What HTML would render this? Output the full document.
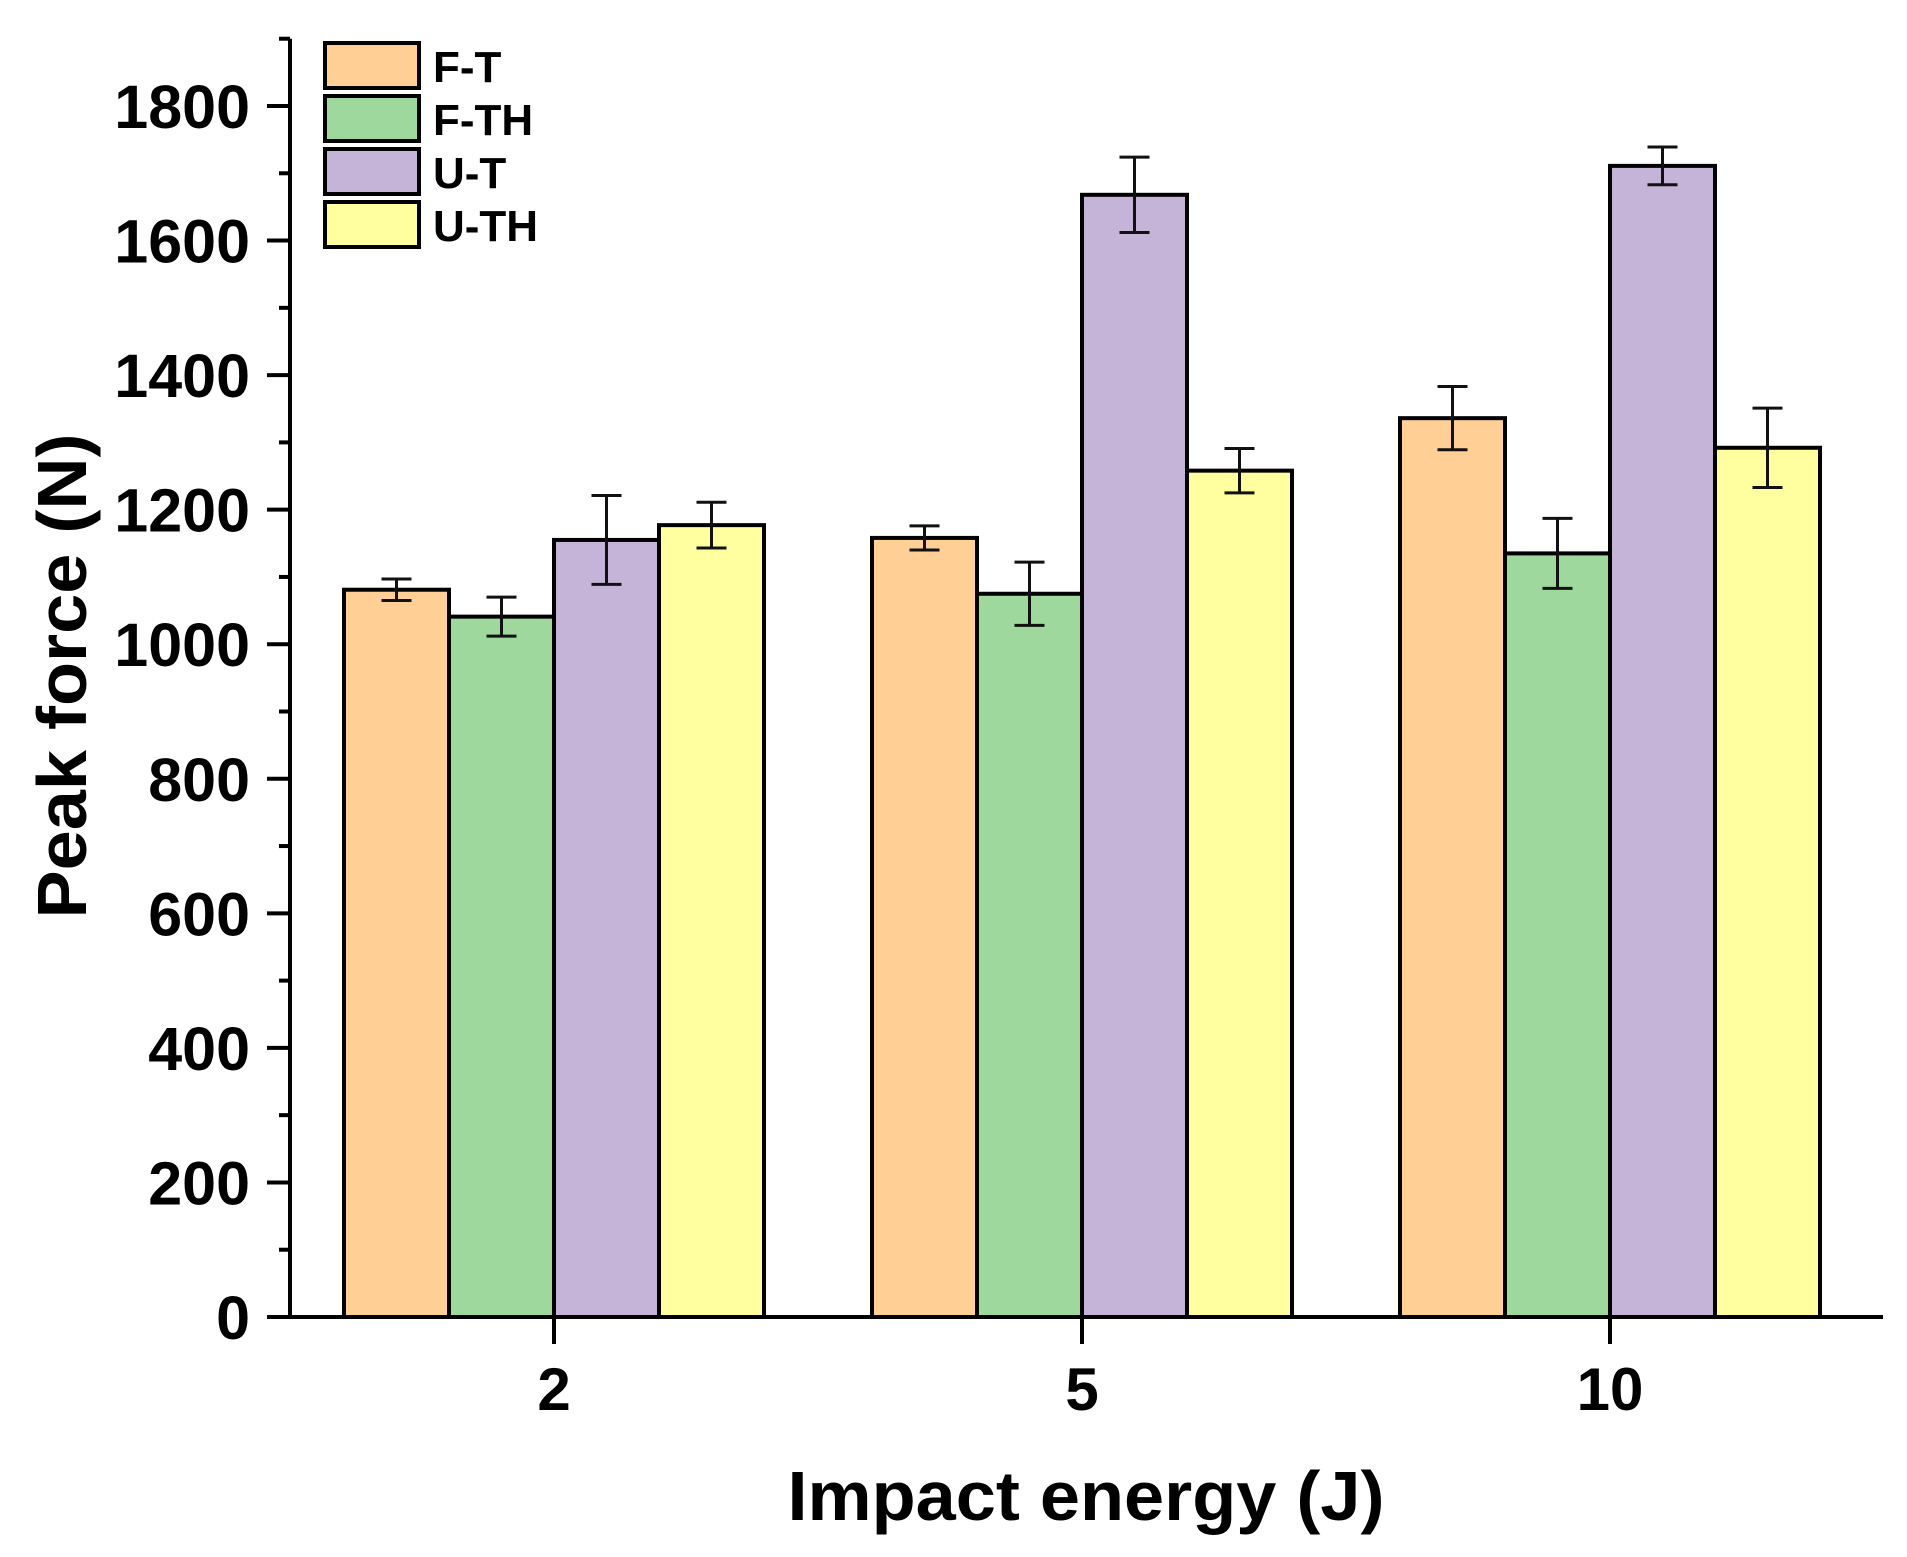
<!DOCTYPE html>
<html><head><meta charset="utf-8"><style>
html,body{margin:0;padding:0;background:#fff;}
svg{display:block;font-family:"Liberation Sans",Arial,sans-serif;font-weight:bold;}
</style></head><body>
<svg id="chart" width="1907" height="1557" viewBox="0 0 1907 1557" xmlns="http://www.w3.org/2000/svg">
<g id="bars"></g>
<g id="axes"></g>
<text x="1086" y="1520" font-size="70" text-anchor="middle" textLength="597" lengthAdjust="spacingAndGlyphs">Impact energy (J)</text>
<text transform="translate(86,676) rotate(-90)" font-size="70" text-anchor="middle" textLength="485" lengthAdjust="spacingAndGlyphs">Peak force (N)</text>
<g id="legend"></g>
</svg>
<script>
const categories = ["2", "5", "10"];
const seriesNames = ["F-T", "F-TH", "U-T", "U-TH"];
const ftValues = [1081, 1158, 1336];
const fthValues = [1041, 1075, 1135];
const utValues = [1155, 1668, 1711];
const uthValues = [1177, 1258, 1292];
const ftErr = [16, 18, 47];
const fthErr = [29, 47, 52];
const utErr = [66, 56, 28];
const uthErr = [34, 33, 59];
const yTicks = [0, 200, 400, 600, 800, 1000, 1200, 1400, 1600, 1800];

const colors = ["#FFCF95", "#9ED89C", "#C6B4D8", "#FFFFA0"];
const values = [ftValues, fthValues, utValues, uthValues];
const errs = [ftErr, fthErr, utErr, uthErr];
const NS = "http://www.w3.org/2000/svg";
const y0 = 1317, yPer = (1317 - 106) / 1800;
const yMax = 1900;
function yScale(v){ return y0 - v * yPer; }
const xStart = 554, xStep = 528;
function xScale(i){ return xStart + i * xStep; }
const barW = 105;
function mk(tag, attrs, parent){ const e=document.createElementNS(NS,tag); for(const k in attrs) e.setAttribute(k,attrs[k]); parent.appendChild(e); return e; }

const barsG = document.getElementById('bars');
categories.forEach((c, ci) => {
  values.forEach((vals, si) => {
    const x = xScale(ci) + (si - 2) * barW;
    const y = yScale(vals[ci]);
    const r = mk('rect', {x:x, y:y, width:barW, height:y0 - y, fill:colors[si], stroke:'#000', 'stroke-width':4}, barsG);
    
    
    const cx = x + barW/2, e = errs[si][ci];
    const g = mk('g', {stroke:'#111', 'stroke-width':3}, barsG);
    
    
    mk('line', {x1:cx, x2:cx, y1:yScale(vals[ci]+e), y2:yScale(vals[ci]-e)}, g);
    mk('line', {x1:cx-15, x2:cx+15, y1:yScale(vals[ci]+e), y2:yScale(vals[ci]+e)}, g);
    mk('line', {x1:cx-15, x2:cx+15, y1:yScale(vals[ci]-e), y2:yScale(vals[ci]-e)}, g);
  });
});

const axG = document.getElementById('axes');
const yAxis = mk('line', {x1:290, x2:290, y1:yScale(yMax), y2:y0+2, stroke:'#000', 'stroke-width':4}, axG);


const xAxis = mk('line', {x1:267, x2:1883, y1:y0, y2:y0, stroke:'#000', 'stroke-width':4}, axG);


for (let v = 0; v <= yMax; v += 100) {
  const major = v % 200 === 0;
  mk('line', {x1: major ? 267 : 279, x2:290, y1:yScale(v), y2:yScale(v), stroke:'#000', 'stroke-width':4}, axG);
}
yTicks.forEach(v => {
  const t = mk('text', {x:250, y:yScale(v)+22, 'font-size':61, 'text-anchor':'end'}, axG);
  
  
  t.textContent = v;
});
categories.forEach((c, ci) => {
  mk('line', {x1:xScale(ci), x2:xScale(ci), y1:y0, y2:y0+27, stroke:'#000', 'stroke-width':4}, axG);
  const t = mk('text', {x:xScale(ci), y:1410, 'font-size':60, 'text-anchor':'middle'}, axG);
  
  
  t.textContent = c;
});

const legG = document.getElementById('legend');
const legY = [43, 96, 149, 202];
seriesNames.forEach((n, i) => {
  const g = mk('g', {}, legG);
  
  
  mk('rect', {x:325, y:legY[i], width:94, height:45, fill:colors[i], stroke:'#000', 'stroke-width':4}, g);
  const t = mk('text', {x:433, y:legY[i]+39, 'font-size':44}, g);
  t.textContent = n;
});
</script>
</body></html>
